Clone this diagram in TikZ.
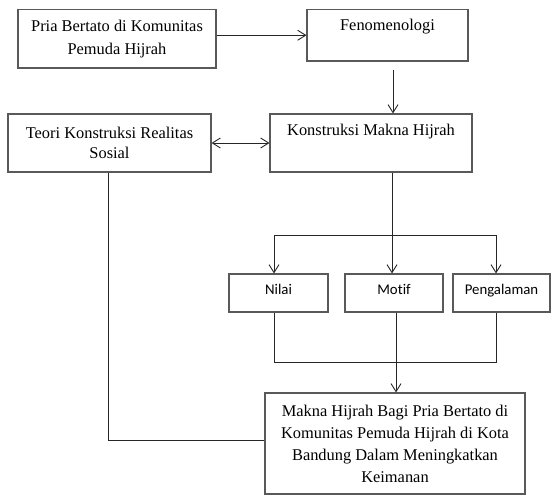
\documentclass[tikz,border=0pt]{standalone}
\usepackage{fontspec}
\setmainfont{Liberation Serif}
\newfontfamily\calib[Ligatures=NoCommon]{Carlito}
\usetikzlibrary{arrows.meta}
\tikzset{
  box/.style={draw=black!65, line width=1.1pt, inner sep=0pt, align=center,
    font=\fontsize{16.4}{22}\selectfont},
  sbox/.style={draw=black!65, line width=1.1pt, inner sep=0pt,
    font=\calib\fontsize{14.8}{18}\selectfont, text height=10pt, text depth=8pt},
  conn/.style={draw=black!85, line width=0.9pt},
  arr/.style={conn, -{Straight Barb[length=8pt,width=10pt]}},
  darr/.style={conn, {Straight Barb[length=8pt,width=10pt]}-{Straight Barb[length=8pt,width=10pt]}},
}
\begin{document}
\begin{tikzpicture}[x=1pt,y=-1pt]
\useasboundingbox (0,0) rectangle (551,495);
% boxes
\node[box, minimum width=198pt, minimum height=58.5pt] (b1) at (117,38.75)
  {Pria Bertato di Komunitas\\[1pt]Pemuda Hijrah};
\node[box, minimum width=161pt, minimum height=51.5pt, text height=11pt, text depth=19.5pt] (fen) at (387.5,35.25)
  {Fenomenologi};
\node[box, minimum width=203pt, minimum height=58pt, font=\fontsize{16.4}{21}\selectfont] (teori) at (109.5,143)
  {Teori Konstruksi Realitas\\[-1pt]Sosial};
\node[box, minimum width=202pt, minimum height=58pt, text height=11pt, text depth=27pt] (kons) at (371,143)
  {Konstruksi Makna Hijrah};
\node[sbox, minimum width=99pt, minimum height=38pt] (nilai) at (278.5,293) {Nilai};
\node[sbox, minimum width=98pt, minimum height=38pt] (motif) at (394,293) {Motif};
\node[sbox, minimum width=97pt, minimum height=38pt] (peng) at (501.5,293) {Pengalaman};
\node[box, minimum width=260pt, minimum height=101pt] (final) at (395,443.5)
  {Makna Hijrah Bagi Pria Bertato di\\Komunitas Pemuda Hijrah di Kota\\Bandung Dalam Meningkatkan\\Keimanan};
% helper coordinates
\coordinate (vx) at (393,0);
\coordinate (mx) at (392,0);
\coordinate (nx) at (274,0);
\coordinate (px) at (496,0);
\coordinate (ox) at (396,0);
\coordinate (tx) at (108,0);
\coordinate (by) at (0,235);
\coordinate (my) at (0,362);
\coordinate (ty) at (0,440);
% connectors
\draw[arr] (b1.east |- fen.west) -- (fen.west);
\draw[arr, shorten <=8pt] (fen.south -| vx) -- (kons.north -| vx);
\draw[darr] (teori.east) -- (kons.west);
\draw[arr] (kons.south -| mx) -- (motif.north -| mx);
\draw[arr] (by -| mx) -| (nilai.north -| nx);
\draw[arr] (by -| mx) -| (peng.north -| px);
\draw[conn] (nilai.south -| nx) |- (my -| px) -- (peng.south -| px);
\draw[arr] (motif.south -| ox) -- (final.north -| ox);
\draw[conn] (teori.south -| tx) |- (final.west |- ty);
\end{tikzpicture}
\end{document}
